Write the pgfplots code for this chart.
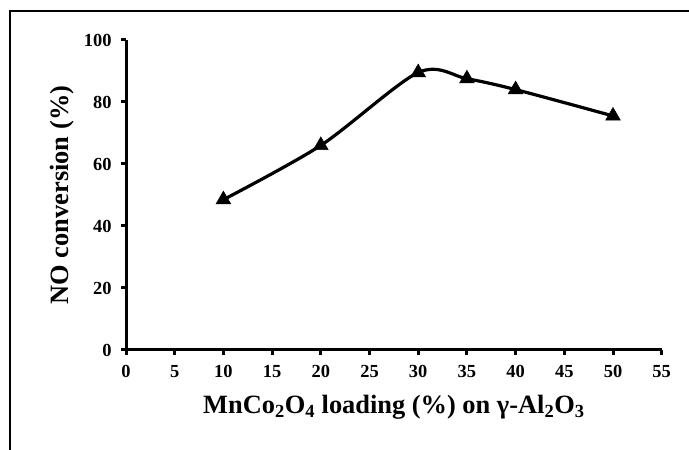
\documentclass[border=0pt]{standalone}
\usepackage{pgfplots}
\pgfplotsset{compat=1.18}
\usepackage{fontspec}
\setmainfont{Liberation Serif}
\begin{document}
\begin{tikzpicture}[x=1bp,y=1bp]
\useasboundingbox (0,0) rectangle (689,450);
\draw[line width=2bp] (9.5,0) -- (9.5,439.5);
\draw[line width=1.2bp] (8.5,439) -- (689,439);
\begin{axis}[
  at={(126bp,100bp)}, anchor=origin,
  scale only axis, width=535.7bp, height=310bp,
  xmin=0, xmax=55, ymin=0, ymax=100,
  axis x line*=bottom, axis y line*=left,
  axis line style={line width=3bp, -},
  xtick={0,5,...,55}, ytick={0,20,...,100},
  tick align=outside, major tick length=5bp,
  tick style={line width=3bp, black},
  tick label style={font=\fontsize{18.5}{18.5}\selectfont\bfseries},
  xticklabel style={yshift=-7bp},
  yticklabel style={xshift=-6bp},
  /pgf/number format/assume math mode=true,
  clip=false,
  xlabel={\fontsize{26.5}{26.5}\selectfont\bfseries MnCo\textsubscript{2}O\textsubscript{4} loading (\%) on γ-Al\textsubscript{2}O\textsubscript{3}},
  ylabel={\fontsize{26.5}{26.5}\selectfont\bfseries NO conversion (\%)},
  xlabel style={at={(axis description cs:0.5,0)}, anchor=base, yshift=-64bp},
  ylabel style={at={(axis description cs:0,0.5)}, anchor=base, yshift=58bp},
]
\addplot[black, line width=3.2bp, smooth, tension=0.5, mark=triangle*, mark size=8.5bp, mark options={line width=0.5bp}]
 coordinates {(10,48.5) (20,66) (30,89.5) (35,87.5) (40,84) (50,75.5)};
\end{axis}
\end{tikzpicture}
\end{document}
